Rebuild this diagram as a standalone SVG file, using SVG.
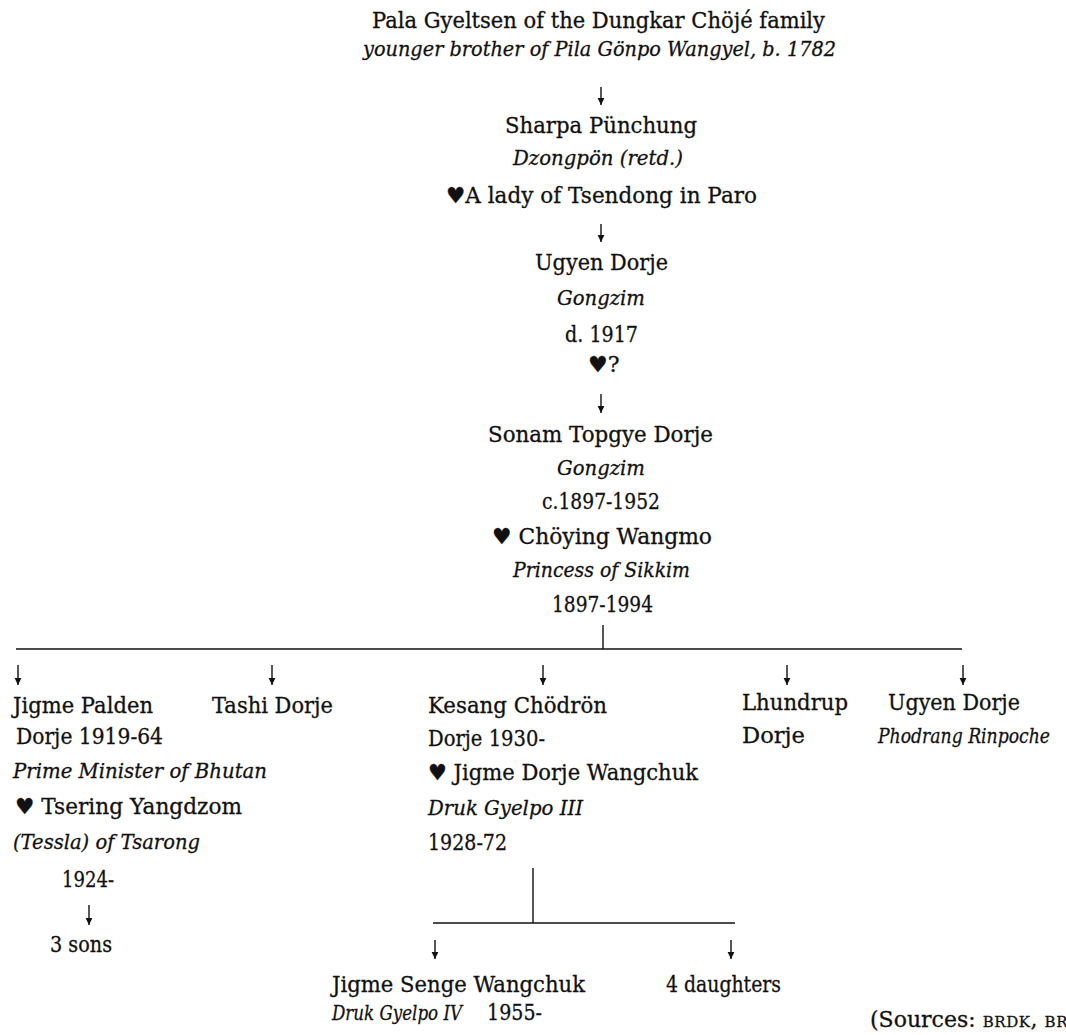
<svg xmlns="http://www.w3.org/2000/svg" width="1066" height="1035" viewBox="0 0 1066 1035">
<style>
.t{font-family:"DejaVu Serif","Liberation Serif",serif;font-size:22px;fill:#111;stroke:#111;stroke-width:0.3}
.i{font-style:italic;font-size:21px}
.sc{font-size:15px;letter-spacing:0.6px}
.c{stroke:#111;stroke-width:1.4;fill:none}
.a{stroke:#111;stroke-width:1.4;fill:none;marker-end:url(#ah)}
</style>
<defs>
<marker id="ah" viewBox="-1 -5 9 10" refX="7" refY="0" markerWidth="9" markerHeight="10" markerUnits="userSpaceOnUse" orient="auto">
<path d="M0,-3.4 L7,0 L0,3.4 Z" fill="#111"/>
</marker>
</defs>
<rect width="1066" height="1035" fill="#fff"/>

<g id="connectors">
<line class="a" x1="601" y1="87" x2="601" y2="105"/>
<line class="a" x1="601" y1="224" x2="601" y2="242"/>
<line class="a" x1="601" y1="394" x2="601" y2="413"/>
<line class="c" x1="603" y1="625" x2="603" y2="649"/>
<line class="c" x1="16" y1="649" x2="962" y2="649"/>
<line class="a" x1="18" y1="665" x2="18" y2="685"/>
<line class="a" x1="272" y1="665" x2="272" y2="685"/>
<line class="a" x1="543" y1="665" x2="543" y2="685"/>
<line class="a" x1="787" y1="665" x2="787" y2="685"/>
<line class="a" x1="963" y1="665" x2="963" y2="685"/>
<line class="a" x1="89" y1="905" x2="89" y2="925"/>
<line class="c" x1="533" y1="868" x2="533" y2="923"/>
<line class="c" x1="433" y1="923" x2="735" y2="923"/>
<line class="a" x1="435" y1="940" x2="435" y2="959"/>
<line class="a" x1="731" y1="940" x2="731" y2="959"/>
</g>

<g id="node-pala-gyeltsen">
<text class="t" x="372" y="28" textLength="453" lengthAdjust="spacingAndGlyphs">Pala Gyeltsen of the Dungkar Chöjé family</text>
<text class="t i" x="363" y="56" textLength="473" lengthAdjust="spacingAndGlyphs">younger brother of Pila Gönpo Wangyel, b. 1782</text>
</g>

<g id="node-sharpa-punchung">
<text class="t" x="505" y="133" textLength="192" lengthAdjust="spacingAndGlyphs">Sharpa Pünchung</text>
<text class="t i" x="513" y="165" textLength="170" lengthAdjust="spacingAndGlyphs">Dzongpön (retd.)</text>
<text class="t" x="446" y="203" textLength="311" lengthAdjust="spacingAndGlyphs">♥A lady of Tsendong in Paro</text>
</g>

<g id="node-ugyen-dorje">
<text class="t" x="535" y="270" textLength="133" lengthAdjust="spacingAndGlyphs">Ugyen Dorje</text>
<text class="t i" x="557" y="305" textLength="88" lengthAdjust="spacingAndGlyphs">Gongzim</text>
<text class="t" x="565" y="342" textLength="73" lengthAdjust="spacingAndGlyphs">d. 1917</text>
<text class="t" x="588" y="372">♥?</text>
</g>

<g id="node-sonam-topgye-dorje">
<text class="t" x="488" y="442" textLength="225" lengthAdjust="spacingAndGlyphs">Sonam Topgye Dorje</text>
<text class="t i" x="557" y="475" textLength="88" lengthAdjust="spacingAndGlyphs">Gongzim</text>
<text class="t" x="542" y="509" textLength="118" lengthAdjust="spacingAndGlyphs">c.1897-1952</text>
<text class="t" x="492" y="544" textLength="220" lengthAdjust="spacingAndGlyphs">♥ Chöying Wangmo</text>
<text class="t i" x="513" y="577" textLength="177" lengthAdjust="spacingAndGlyphs">Princess of Sikkim</text>
<text class="t" x="552" y="612" textLength="101" lengthAdjust="spacingAndGlyphs">1897-1994</text>
</g>

<g id="node-jigme-palden-dorje">
<text class="t" x="13" y="713" textLength="140" lengthAdjust="spacingAndGlyphs">Jigme Palden</text>
<text class="t" x="16" y="744" textLength="147" lengthAdjust="spacingAndGlyphs">Dorje 1919-64</text>
<text class="t i" x="13" y="778" textLength="254" lengthAdjust="spacingAndGlyphs">Prime Minister of Bhutan</text>
<text class="t" x="15" y="814" textLength="227" lengthAdjust="spacingAndGlyphs">♥ Tsering Yangdzom</text>
<text class="t i" x="13" y="849" textLength="187" lengthAdjust="spacingAndGlyphs">(Tessla) of Tsarong</text>
<text class="t" x="62" y="887" textLength="52" lengthAdjust="spacingAndGlyphs">1924-</text>
</g>

<g id="node-3-sons">
<text class="t" x="50" y="952" textLength="62" lengthAdjust="spacingAndGlyphs">3 sons</text>
</g>

<g id="node-tashi-dorje">
<text class="t" x="212" y="713" textLength="121" lengthAdjust="spacingAndGlyphs">Tashi Dorje</text>
</g>

<g id="node-kesang-chodron">
<text class="t" x="428" y="713" textLength="179" lengthAdjust="spacingAndGlyphs">Kesang Chödrön</text>
<text class="t" x="428" y="746" textLength="117" lengthAdjust="spacingAndGlyphs">Dorje 1930-</text>
<text class="t" x="428" y="780" textLength="270" lengthAdjust="spacingAndGlyphs">♥ Jigme Dorje Wangchuk</text>
<text class="t i" x="428" y="815" textLength="155" lengthAdjust="spacingAndGlyphs">Druk Gyelpo III</text>
<text class="t" x="428" y="850" textLength="79" lengthAdjust="spacingAndGlyphs">1928-72</text>
</g>

<g id="node-lhundrup-dorje">
<text class="t" x="742" y="710" textLength="106" lengthAdjust="spacingAndGlyphs">Lhundrup</text>
<text class="t" x="742" y="743" textLength="63" lengthAdjust="spacingAndGlyphs">Dorje</text>
</g>

<g id="node-ugyen-dorje-2">
<text class="t" x="888" y="710" textLength="132" lengthAdjust="spacingAndGlyphs">Ugyen Dorje</text>
<text class="t i" x="878" y="743" textLength="172" lengthAdjust="spacingAndGlyphs">Phodrang Rinpoche</text>
</g>

<g id="node-jigme-senge-wangchuk">
<text class="t" x="332" y="992" textLength="253" lengthAdjust="spacingAndGlyphs">Jigme Senge Wangchuk</text>
<text class="t i" x="332" y="1020" textLength="130" lengthAdjust="spacingAndGlyphs">Druk Gyelpo IV</text>
<text class="t" x="487" y="1020" textLength="55" lengthAdjust="spacingAndGlyphs">1955-</text>
</g>

<g id="node-4-daughters">
<text class="t" x="666" y="992" textLength="115" lengthAdjust="spacingAndGlyphs">4 daughters</text>
</g>

<g id="sources">
<text class="t" x="870" y="1027">(Sources: <tspan class="sc">BRDK</tspan>, <tspan class="sc">BRC</tspan></text>
</g>
</svg>
